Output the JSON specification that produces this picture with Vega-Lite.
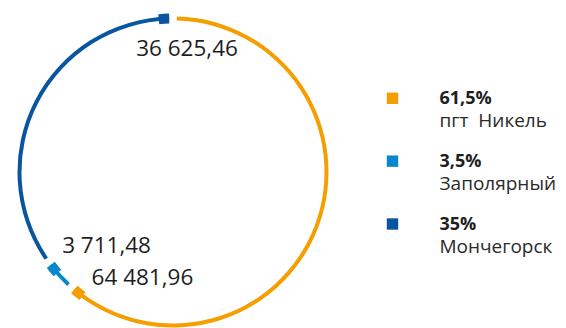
{
  "$schema": "https://vega.github.io/schema/vega-lite/v6.json",
  "padding": 0,
  "spacing": 0,
  "bounds": "flush",
  "background": "white",
  "config": {
    "view": {"stroke": null},
    "font": "Open Sans",
    "locale": {"number": {"decimal": ",", "thousands": " ", "grouping": [3], "currency": ["", ""]}}
  },
  "data": {"values": [
    {"name": "пгт\u00a0 Никель", "value": 64481.96, "share": 0.615},
    {"name": "Заполярный", "value": 3711.48, "share": 0.035},
    {"name": "Мончегорск", "value": 36625.46, "share": 0.35}
  ]},
  "hconcat": [
    {
      "width": 346,
      "height": 344,
      "transform": [{"stack": "value", "groupby": [], "as": ["start", "end"]}],
      "encoding": {
        "color": {"field": "name", "type": "nominal", "legend": null,
          "scale": {"domain": ["пгт\u00a0 Никель", "Заполярный", "Мончегорск"], "range": ["#F49E00", "#0A86CF", "#0A559F"]}}
      },
      "layer": [
        {
          "mark": {"type": "arc", "innerRadius": 151.5, "outerRadius": 155.5, "thetaOffset": 0.025, "theta2Offset": -0.025},
          "encoding": {
            "theta": {"field": "start", "type": "quantitative", "stack": null, "scale": {"zero": true, "nice": false}},
            "theta2": {"field": "end"}
          }
        },
        {
          "mark": {"type": "arc", "innerRadius": 148.5, "outerRadius": 158.5, "thetaOffset": -0.093, "theta2Offset": -0.025},
          "encoding": {
            "theta": {"field": "end", "type": "quantitative", "stack": null},
            "theta2": {"field": "end"}
          }
        },
        {
          "transform": [{"filter": "datum.name == 'Мончегорск'"}],
          "mark": {"type": "text", "radius": 130, "dx": 14, "dy": 6.5, "fontSize": 22.5, "align": "center", "baseline": "middle"},
          "encoding": {
            "theta": {"field": "end", "type": "quantitative", "stack": null},
            "text": {"field": "value", "type": "quantitative", "format": ",.2f"},
            "color": {"value": "#1e1e1e"}
          }
        },
        {
          "transform": [{"filter": "datum.name == 'Заполярный'"}],
          "mark": {"type": "text", "radius": 130, "dx": 39, "dy": -1.7, "fontSize": 22.5, "align": "center", "baseline": "middle"},
          "encoding": {
            "theta": {"field": "end", "type": "quantitative", "stack": null},
            "text": {"field": "value", "type": "quantitative", "format": ",.2f"},
            "color": {"value": "#1e1e1e"}
          }
        },
        {
          "transform": [{"filter": "datum.name == 'пгт\u00a0 Никель'"}],
          "mark": {"type": "text", "radius": 130, "dx": 55.5, "dy": 9, "fontSize": 22.5, "align": "center", "baseline": "middle"},
          "encoding": {
            "theta": {"field": "end", "type": "quantitative", "stack": null},
            "text": {"field": "value", "type": "quantitative", "format": ",.2f"},
            "color": {"value": "#1e1e1e"}
          }
        }
      ]
    },
    {
      "width": 93,
      "height": 322,
      "mark": {"type": "square", "size": 130, "filled": true, "opacity": 1},
      "encoding": {
        "y": {"field": "name", "type": "nominal", "sort": null, "scale": {"type": "point", "padding": 0, "range": [98.3, 224]}, "axis": null},
        "color": {"field": "name", "type": "nominal", "legend": null,
          "scale": {"domain": ["пгт\u00a0 Никель", "Заполярный", "Мончегорск"], "range": ["#F49E00", "#0A86CF", "#0A559F"]}}
      }
    },
    {
      "width": 1,
      "height": 322,
      "encoding": {
        "y": {"field": "name", "type": "nominal", "sort": null, "scale": {"type": "point", "padding": 0, "range": [98.3, 224]}, "axis": null}
      },
      "layer": [
        {
          "mark": {"type": "text", "align": "left", "baseline": "alphabetic", "dy": 5.5, "fontSize": 18, "fontWeight": "bold", "color": "#1e1e1e"},
          "encoding": {"text": {"field": "share", "type": "quantitative", "format": ".1~%"}}
        },
        {
          "mark": {"type": "text", "align": "left", "baseline": "alphabetic", "dy": 28.5, "fontSize": 19, "color": "#2a2a2a"},
          "encoding": {"text": {"field": "name", "type": "nominal"}}
        }
      ]
    }
  ]
}
